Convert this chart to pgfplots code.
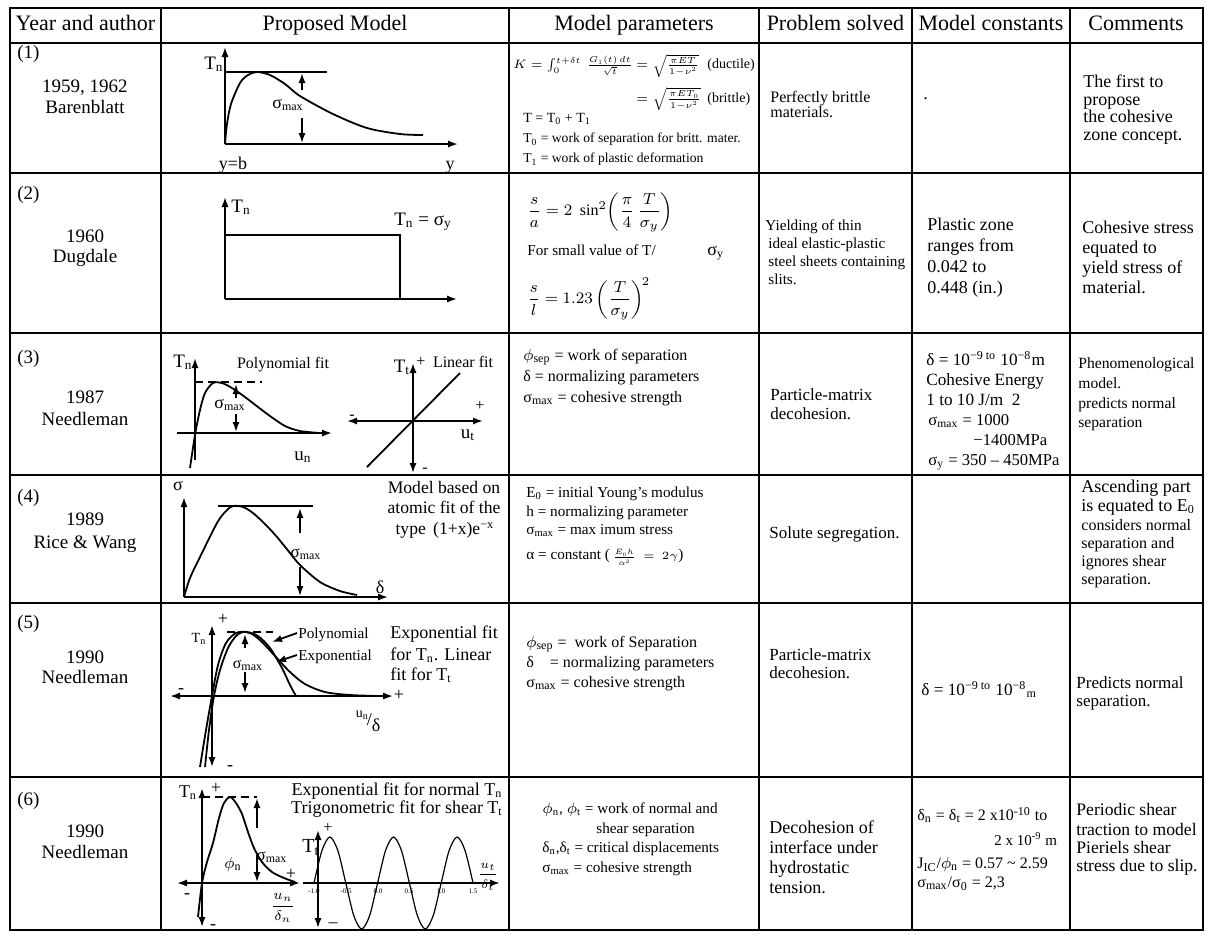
\documentclass[border=0pt]{standalone}
\usepackage{fix-cm}
\usepackage{fontspec}
\setmainfont{Liberation Serif}
\usepackage{amsmath}
\usepackage{pgfplots}
\pgfplotsset{compat=1.18}
\usetikzlibrary{arrows.meta}

\newcommand{\fs}[1]{\fontsize{#1}{#1}\selectfont}
\newcommand{\smax}{σ\textsubscript{max}}

\begin{document}
\begin{tikzpicture}[
  ln/.style={black, line width=0.9pt},
  ar/.style={ln, -{Latex[length=5pt,width=3.6pt]}},
  dar/.style={ln, {Latex[length=5pt,width=3.6pt]}-{Latex[length=5pt,width=3.6pt]}},
  tx/.style={inner sep=0pt, anchor=west, text height=1.6ex, text depth=0.35ex},
  tc/.style={tx, anchor=center},
]
\begin{axis}[at={(0,0)}, anchor=south west, scale only axis,
  width=602.5pt, height=467pt, xmin=0, xmax=1205, ymin=0, ymax=934,
  y dir=reverse, hide axis, clip=false]

% table grid (pixel coordinates of the page, y downwards)
\addplot[black, line width=1pt, line cap=rect] coordinates {(10,8) (1203,8)};
\addplot[black, line width=1pt] coordinates {(10,43) (1203,43)};
\addplot[black, line width=1pt] coordinates {(10,173) (1203,173)};
\addplot[black, line width=1pt] coordinates {(10,333) (1203,333)};
\addplot[black, line width=1pt] coordinates {(10,475) (1203,475)};
\addplot[black, line width=1pt] coordinates {(10,603) (1203,603)};
\addplot[black, line width=1pt] coordinates {(10,777) (1203,777)};
\addplot[black, line width=1pt, line cap=rect] coordinates {(10,930) (1203,930)};
\addplot[black, line width=1pt, line cap=rect] coordinates {(10,8) (10,930)};
\addplot[black, line width=1pt] coordinates {(161,8) (161,930)};
\addplot[black, line width=1pt] coordinates {(509,8) (509,930)};
\addplot[black, line width=1pt] coordinates {(759,8) (759,930)};
\addplot[black, line width=1pt] coordinates {(912,8) (912,930)};
\addplot[black, line width=1pt] coordinates {(1070,8) (1070,930)};
\addplot[black, line width=1pt, line cap=rect] coordinates {(1203,8) (1203,930)};

% header
\node[tc, font=\fs{11}] at (85.5,25) {Year and author};
\node[tc, font=\fs{11}] at (335,25) {Proposed Model};
\node[tc, font=\fs{11}] at (634,25) {Model parameters};
\node[tc, font=\fs{11}] at (835.5,25) {Problem solved};
\node[tc, font=\fs{11}] at (991,25) {Model constants};
\node[tc, font=\fs{11}] at (1136,25) {Comments};

% year and author
\node[tx, font=\fs{9.5}] at (17,53) {(1)};
\node[tc, font=\fs{9.5}] at (85,87) {1959, 1962};
\node[tc, font=\fs{9.5}] at (85,108) {Barenblatt};
\node[tx, font=\fs{9.5}] at (17,194) {(2)};
\node[tc, font=\fs{9.5}] at (85,237) {1960};
\node[tc, font=\fs{9.5}] at (85,257) {Dugdale};
\node[tx, font=\fs{9.5}] at (17,358) {(3)};
\node[tc, font=\fs{9.5}] at (85,398) {1987};
\node[tc, font=\fs{9.5}] at (85,420) {Needleman};
\node[tx, font=\fs{9.5}] at (17,497) {(4)};
\node[tc, font=\fs{9.5}] at (85,520) {1989};
\node[tc, font=\fs{9.5}] at (85,543) {Rice \& Wang};
\node[tx, font=\fs{9.5}] at (17,623) {(5)};
\node[tc, font=\fs{9.5}] at (85,658) {1990};
\node[tc, font=\fs{9.5}] at (85,678) {Needleman};
\node[tx, font=\fs{9.5}] at (17,800) {(6)};
\node[tc, font=\fs{9.5}] at (85,832) {1990};
\node[tc, font=\fs{9.5}] at (85,853) {Needleman};

% ---- sketch 1: Barenblatt
\draw[ar] (225,144) -- (225,47);
\draw[ar] (225,144) -- (458,144);
\addplot[ln] coordinates {(225,72) (327,72)};
\addplot[ln, smooth] coordinates {(225,144) (227,124) (231,104) (240,83) (248,75) (257,72)
  (270,75) (285,84) (300,96) (333,114) (367,128) (400,134) (423,135)};
\draw[ar] (302,90) -- (302,73);
\draw[ar] (302,118) -- (302,143);
\node[tc, font=\fs{9}] at (288,103) {\smax};
\node[tc, font=\fs{9.5}] at (214,64) {T\textsubscript{n}};
\node[tc, font=\fs{9}] at (233,164) {y=b};
\node[tc, font=\fs{9}] at (450,164) {y};

% ---- sketch 2: Dugdale
\draw[ar] (225,299) -- (225,197);
\draw[ar] (225,299) -- (457,299);
\addplot[ln] coordinates {(225,235) (400,235) (400,299)};
\node[tx, font=\fs{9.5}] at (231,207) {T\textsubscript{n}};
\node[tc, font=\fs{9.5}] at (423,220) {T\textsubscript{n} = σ\textsubscript{y}};

% ---- sketch 3: Needleman 1987
\draw[ar] (195,460) -- (195,358);
\draw[ar] (177,433) -- (332,433);
\addplot[ln, dash pattern=on 4pt off 2.5pt] coordinates {(195,382) (262,382)};
\addplot[ln, smooth] coordinates {(190,468) (195,435) (200,410) (205,393) (213,383) (222,383)
  (232,388) (245,397) (258,407) (270,416) (285,426) (300,431) (320,433)};
\draw[ar] (236,398) -- (236,384);
\draw[ar] (236,414) -- (236,432);
\node[tc, font=\fs{9}] at (230,403) {\smax};
\node[tc, font=\fs{9.5}] at (183,362) {T\textsubscript{n}};
\node[tc, font=\fs{8}] at (283,363) {Polynomial fit};
\node[tc, font=\fs{9.5}] at (303,455) {u\textsubscript{n}};
\draw[dar] (413,473) -- (413,363);
\draw[dar] (347,421) -- (483,421);
\addplot[ln] coordinates {(367,467) (460,373)};
\node[tc, font=\fs{9.5}] at (402,367) {T\textsubscript{t}};
\node[tc, font=\fs{8}] at (421,361) {+};
\node[tc, font=\fs{8}] at (463,362) {Linear fit};
\node[tc, font=\fs{8}] at (352,414) {-};
\node[tc, font=\fs{8}] at (480,405) {+};
\node[tc, font=\fs{9.5}] at (468,433) {u\textsubscript{t}};
\node[tc, font=\fs{8}] at (425,467) {-};

% ---- sketch 4: Rice & Wang
\draw[ar] (184,597) -- (184,497);
\draw[ar] (184,597) -- (388,597);
\addplot[ln] coordinates {(218,506) (313,506)};
\addplot[ln, smooth] coordinates {(184,597) (190,578) (200,557) (217,523) (226,511) (233,506)
  (243,507) (253,513) (265,524) (277,537) (290,553) (300,565) (320,582) (340,591) (357,595)};
\draw[ar] (300,533) -- (300,508);
\draw[ar] (300,567) -- (300,596);
\node[tc, font=\fs{8.5}] at (306,552) {\smax};
\node[tc, font=\fs{9}] at (178,485) {σ};
\node[tc, font=\fs{9}] at (380,588) {δ};
\node[tc, font=\fs{8.8}] at (444,488) {Model based on};
\node[tc, font=\fs{8.8}] at (444,508) {atomic fit of the};
\node[tc, font=\fs{8.8}] at (445,529) {type\, (1+x)e\textsuperscript{−x}};

% ---- sketch 5: Needleman 1990
\draw[dar] (212,767) -- (212,625);
\draw[dar] (170,696) -- (393,696);
\node[tc, font=\fs{9}] at (399,695) {+};
\node[tc, font=\fs{9}] at (181,688) {-};
\node[tc, font=\fs{9}] at (223,619) {+};
\node[tc, font=\fs{7}] at (199,637) {T\textsubscript{n}};
\node[tc, font=\fs{9}] at (230,765) {-};
\addplot[ln, dash pattern=on 4pt off 2.5pt] coordinates {(227,632) (273,632)};
\addplot[ln, smooth] coordinates {(205,767) (209,730) (214,696) (220,670) (228,648) (236,636)
  (243,632) (252,634) (262,642) (275,656) (290,672) (305,684) (325,692) (350,695) (380,696)};
\addplot[ln, smooth] coordinates {(200,767) (206,730) (212,696) (218,665) (226,643) (236,633)
  (247,632) (258,636) (270,648) (282,668) (290,685) (296,696)};
\draw[ar] (297,633) -- (272,642);
\draw[ar] (297,655) -- (276,662);
\node[tx, font=\fs{7.6}] at (298,633) {Polynomial};
\node[tx, font=\fs{7.6}] at (298,655) {Exponential};
\draw[ar] (245,648) -- (245,634);
\draw[ar] (245,672) -- (245,693);
\node[tc, font=\fs{8}] at (248,663) {\smax};
\node[tc, font=\fs{9}] at (368,720) {\raisebox{4pt}{\fs{7}u\textsubscript{n}}\hspace{-1pt}/\raisebox{-3pt}{δ}};
\node[tx, font=\fs{9}] at (390,633) {Exponential fit};
\node[tx, font=\fs{9}] at (390,655) {for T\textsubscript{n}. Linear};
\node[tx, font=\fs{9}] at (390,675) {fit for T\textsubscript{t}};

% ---- sketch 6: Needleman 1990, normal and shear
\draw[dar] (202,927) -- (202,788);
\draw[dar] (177,883) -- (300,883);
\addplot[ln, dash pattern=on 4pt off 2.5pt] coordinates {(202,797) (257,797)};
\addplot[ln, smooth] coordinates {(198,917) (202,883) (207,862) (213,843) (219,818) (224,803)
  (230,797) (236,803) (242,814) (248,832) (254,848) (262,862) (272,872) (284,878) (295,882)};
\draw[ar] (257,828) -- (257,798);
\draw[ar] (257,855) -- (257,882);
\node[tc, font=\fs{8.5}] at (272,855) {\smax};
\node[tc, font=\fs{8}] at (233,863) {$\phi$\textsubscript{n}};
\node[tc, font=\fs{9}] at (291,874) {+};
\node[tc, font=\fs{9}] at (187,893) {-};
\node[tc, font=\fs{9}] at (216,788) {+};
\node[tc, font=\fs{9}] at (188,792) {T\textsubscript{n}};
\node[tc, font=\fs{9}] at (213,924) {-};
\node[tc, font=\fs{7}] at (283,904) {$\displaystyle\frac{u_n}{\delta_n}$};
\draw[dar] (318,928) -- (318,830);
\draw[ar] (303,883) -- (500,883);
\addplot[black, line width=0.6pt, smooth] coordinates {(314,883) (321.95,850.5) (329.9,837)
  (337.85,850.5) (345.8,883) (353.75,915.5) (361.7,929) (369.65,915.5) (377.6,883)
  (385.55,850.5) (393.5,837) (401.45,850.5) (409.4,883) (417.35,915.5) (425.3,929)
  (433.25,915.5) (441.2,883) (449.15,850.5) (457.1,837) (465.05,850.5) (473,883)};
\node[tc, font=\fs{3.5}] at (314,888) {-1.0};
\node[tc, font=\fs{3.5}] at (346,888) {-0.5};
\node[tc, font=\fs{3.5}] at (378,888) {0.0};
\node[tc, font=\fs{3.5}] at (409,888) {0.5};
\node[tc, font=\fs{3.5}] at (441,888) {1.0};
\node[tc, font=\fs{3.5}] at (473,888) {1.5};
\node[tc, font=\fs{10}] at (311,847) {T\textsubscript{t}};
\node[tc, font=\fs{8}] at (328,827) {+};
\node[tc, font=\fs{9}] at (333,922) {–};
\node[tc, font=\fs{6}] at (488,872) {$\displaystyle\frac{u_t}{\delta_t}$};
\node[tc, font=\fs{9}] at (397,790) {Exponential fit for normal T\textsubscript{n}};
\node[tc, font=\fs{9}] at (397,808) {Trigonometric fit for shear T\textsubscript{t}};

% ---- model parameters
\node[tx, font=\fs{6.1}] at (513,63) {$K=\int_0^{t+\delta t}\,\frac{G_1(t)\,dt}{\sqrt{t}}$};
\node[tx, font=\fs{6.3}] at (636,63) {$=\sqrt{\frac{\pi E T}{1-\nu^2}}$};
\node[tx, font=\fs{7}] at (707,63) {(ductile)};
\node[tx, font=\fs{6.3}] at (636,97) {$=\sqrt{\frac{\pi E T_0}{1-\nu^2}}$};
\node[tx, font=\fs{7}] at (707,97) {(brittle)};
\node[tx, font=\fs{7}] at (523,117) {T = T\textsubscript{0} + T\textsubscript{1}};
\node[tx, font=\fs{6.8}] at (523,137) {T\textsubscript{0} = work of separation for britt. mater.};
\node[tx, font=\fs{6.8}] at (523,157) {T\textsubscript{1} = work of plastic deformation};

\node[tx, font=\fs{8}] at (527,210) {$\displaystyle\frac{s}{a}=2\;\sin^2\!\left(\frac{\pi}{4}\,\frac{T}{\sigma_y}\right)$};
\node[tx, font=\fs{7.6}] at (527,250) {For small value of T/};
\node[tx, font=\fs{9}] at (707,250) {σ\textsubscript{y}};
\node[tx, font=\fs{8}] at (527,298) {$\displaystyle\frac{s}{l}=1.23\left(\frac{T}{\sigma_y}\right)^{\!2}$};

\node[tx, font=\fs{8}] at (523,355) {$\phi$\textsubscript{sep} = work of separation};
\node[tx, font=\fs{8}] at (523,376) {δ = normalizing parameters};
\node[tx, font=\fs{8}] at (523,397) {\smax{} = cohesive strength};

\node[tx, font=\fs{7.6}] at (526,492) {E\textsubscript{0} = initial Young's modulus};
\node[tx, font=\fs{7.6}] at (526,511) {h = normalizing parameter};
\node[tx, font=\fs{7.6}] at (526,529) {\smax{} = max imum stress};
\node[tx, font=\fs{7.6}] at (526,554) {α = constant (\,{\fs{5.5}$\frac{E_0h}{\alpha^2}\,=\,2\gamma$})};

\node[tx, font=\fs{8}] at (526,642) {$\phi$\textsubscript{sep} = \ work of Separation};
\node[tx, font=\fs{8}] at (526,662) {δ \ \ \ = normalizing parameters};
\node[tx, font=\fs{8}] at (526,682) {\smax{} = cohesive strength};

\node[tx, font=\fs{7.6}] at (542,808) {$\phi$\textsubscript{n}, $\phi$\textsubscript{t} = work of normal and};
\node[tx, font=\fs{7.6}] at (596,828) {shear separation};
\node[tx, font=\fs{7.6}] at (542,847) {δ\textsubscript{n},δ\textsubscript{t} = critical displacements};
\node[tx, font=\fs{7.6}] at (542,867) {\smax{} = cohesive strength};

% ---- problem solved
\node[tx, font=\fs{8}] at (770,97) {Perfectly brittle};
\node[tx, font=\fs{8}] at (770,112) {materials.};
\node[tx, font=\fs{7.6}] at (765,225) {Yielding of thin};
\node[tx, font=\fs{7.6}] at (768,243) {ideal elastic-plastic};
\node[tx, font=\fs{7.6}] at (768,261) {steel sheets containing};
\node[tx, font=\fs{7.6}] at (768,279) {slits.};
\node[tx, font=\fs{8.5}] at (770,395) {Particle-matrix};
\node[tx, font=\fs{8.5}] at (770,414) {decohesion.};
\node[tx, font=\fs{8.5}] at (769,533) {Solute segregation.};
\node[tx, font=\fs{8.5}] at (769,655) {Particle-matrix};
\node[tx, font=\fs{8.5}] at (769,673) {decohesion.};
\node[tx, font=\fs{9}] at (769,828) {Decohesion of};
\node[tx, font=\fs{9}] at (769,848) {interface under};
\node[tx, font=\fs{9}] at (769,868) {hydrostatic};
\node[tx, font=\fs{9}] at (769,888) {tension.};

% ---- model constants
\node[tx, font=\fs{9}] at (923,94) {.};
\node[tx, font=\fs{9}] at (927,225) {Plastic zone};
\node[tx, font=\fs{9}] at (927,246) {ranges from};
\node[tx, font=\fs{9}] at (927,267) {0.042 to};
\node[tx, font=\fs{9}] at (927,288) {0.448 (in.)};
\node[tx, font=\fs{8.6}] at (926,360) {δ = 10\textsuperscript{−9 to} 10\textsuperscript{−8}m};
\node[tx, font=\fs{8.6}] at (926,380) {Cohesive Energy};
\node[tx, font=\fs{8.6}] at (926,400) {1 to 10 J/m \ 2};
\node[tx, font=\fs{8.3}] at (928,420) {\smax{} = 1000};
\node[tx, font=\fs{8.3}] at (973,440) {−1400MPa};
\node[tx, font=\fs{8.3}] at (928,460) {σ\textsubscript{y} = 350 – 450MPa};
\node[tx, font=\fs{8.6}] at (921,690) {δ = 10\textsuperscript{−9 to} 10\textsuperscript{−8}\textsubscript{m}};
\node[tx, font=\fs{8}] at (917,815) {δ\textsubscript{n} = δ\textsubscript{t} = 2 x10\textsuperscript{-10} to};
\node[tx, font=\fs{7.5}] at (994,840) {2 x 10\textsuperscript{-9} m};
\node[tx, font=\fs{8}] at (917,863) {J\textsubscript{IC}/$\phi$\textsubscript{n} = 0.57 \textasciitilde{} 2.59};
\node[tx, font=\fs{8}] at (917,882) {\smax/σ\textsubscript{0} = 2,3};

% ---- comments
\node[tx, font=\fs{9}] at (1083,82) {The first to};
\node[tx, font=\fs{9}] at (1083,100) {propose};
\node[tx, font=\fs{9}] at (1083,117) {the cohesive};
\node[tx, font=\fs{9}] at (1083,135) {zone concept.};
\node[tx, font=\fs{9}] at (1082,228) {Cohesive stress};
\node[tx, font=\fs{9}] at (1082,248) {equated to};
\node[tx, font=\fs{9}] at (1082,268) {yield stress of};
\node[tx, font=\fs{9}] at (1082,288) {material.};
\node[tx, font=\fs{7.8}] at (1078,363) {Phenomenological};
\node[tx, font=\fs{7.8}] at (1078,383) {model.};
\node[tx, font=\fs{7.8}] at (1078,403) {predicts normal};
\node[tx, font=\fs{7.8}] at (1078,422) {separation};
\node[tx, font=\fs{9}] at (1081,487) {Ascending part};
\node[tx, font=\fs{9}] at (1081,506) {is equated to E\textsubscript{0}};
\node[tx, font=\fs{8}] at (1081,525) {considers normal};
\node[tx, font=\fs{8}] at (1081,543) {separation and};
\node[tx, font=\fs{8}] at (1081,561) {ignores shear};
\node[tx, font=\fs{8}] at (1081,579) {separation.};
\node[tx, font=\fs{8.5}] at (1076,683) {Predicts normal};
\node[tx, font=\fs{8.5}] at (1076,701) {separation.};
\node[tx, font=\fs{8.8}] at (1076,810) {Periodic shear};
\node[tx, font=\fs{8.8}] at (1076,830) {traction to model};
\node[tx, font=\fs{8.8}] at (1076,848) {Pieriels shear};
\node[tx, font=\fs{8.8}] at (1076,866) {stress due to slip.};

\end{axis}
\useasboundingbox (0,0) rectangle (602.5pt,467pt);
\end{tikzpicture}
\end{document}
